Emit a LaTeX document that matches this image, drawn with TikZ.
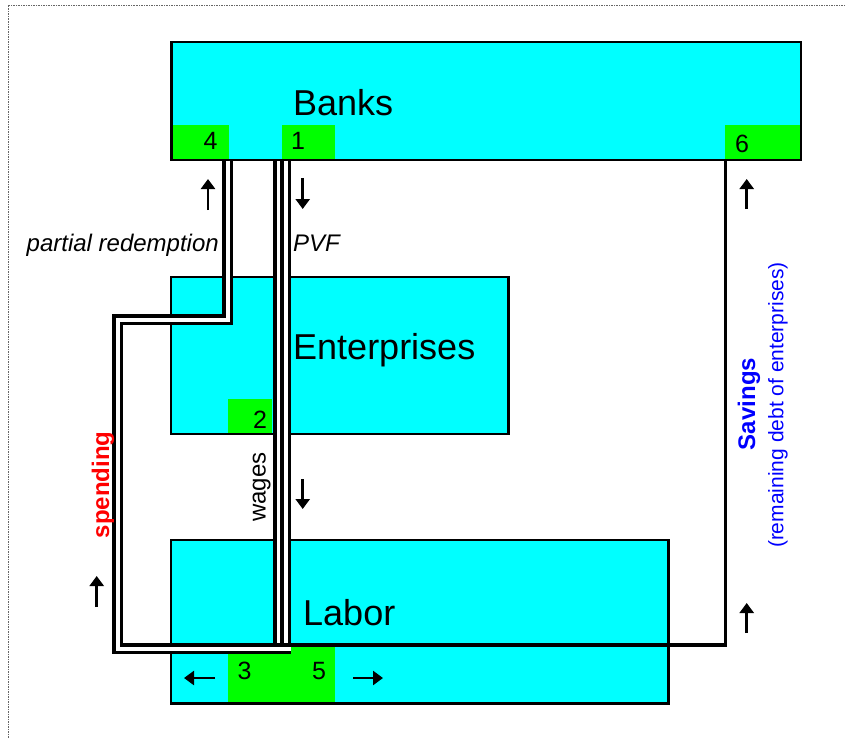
\documentclass[tikz,border=0pt]{standalone}
\usepackage{fontspec}
\setmainfont{Liberation Sans}
\usetikzlibrary{arrows.meta}
\definecolor{boxcyan}{RGB}{0,255,255}
\definecolor{cellgreen}{RGB}{0,255,0}
\definecolor{savblue}{RGB}{0,0,255}
\definecolor{spendred}{RGB}{255,0,0}

\begin{document}
\begin{tikzpicture}[x=1pt,y=-1pt,
  sector/.style={fill=boxcyan,inner sep=0pt,anchor=north west},
  cell/.style={fill=cellgreen,inner sep=0pt,anchor=north west},
  frame/.style={line width=2.2pt},
  title/.style={font=\fontsize{36}{40}\selectfont,anchor=base west,inner sep=0pt},
  num/.style={font=\fontsize{25}{28}\selectfont,anchor=base,inner sep=0pt},
  flow/.style={font=\fontsize{24}{28}\selectfont\itshape,inner sep=0pt},
  pipe/.style={line width=3.3pt,double=white,double distance=4pt},
  wide pipe/.style={line width=3.6pt,double=white,double distance=11pt},
  savings/.style={line width=3.3pt},
  flowarrow/.style={line width=2.8pt,-{Triangle[width=14pt,length=10pt]}}]
\useasboundingbox (0,0) rectangle (845,738);
\draw[gray!80!black,dash pattern=on 1.5pt off 1pt,line width=1pt] (845,5.5) -- (8,5.5) -- (8,738);

% sectors
\node[sector,minimum width=629pt,minimum height=117.5pt] (banks) at (171.5,42) {};
\node[sector,minimum width=337pt,minimum height=156.5pt] (enterprises) at (171,277) {};
\node[sector,minimum width=497pt,minimum height=163pt] (labor) at (171,540) {};

% accounts
\node[cell,minimum width=56.8pt,minimum height=34.5pt] (c4) at (171.5,125) {};
\node[cell,minimum width=53.3pt,minimum height=34.5pt] (c1) at (281.7,125) {};
\node[cell,minimum width=75.5pt,minimum height=34.5pt] (c6) at (725,125) {};
\node[cell,minimum width=44pt,minimum height=34.5pt] (c2) at (228,399) {};
\node[cell,minimum width=107pt,minimum height=58pt] (c35) at (228,645) {};

\foreach \b in {banks,enterprises,labor}
  \draw[frame] (\b.south west) rectangle (\b.north east);

\node[title] (tbanks) at (293,116) {Banks};
\node[title] (tent) at (293,359) {Enterprises};
\node[title] (tlab) at (303,625) {Labor};

\node[num] (n4) at (210.5,150) {4};
\node[num] (n1) at (298,150) {1};
\node[num] (n6) at (742,153) {6};
\node[num] (n2) at (260,428) {2};
\node[num] (n3) at (244.5,679) {3};
\node[num] (n5) at (319,679) {5};

% flows
\coordinate (sv0) at (725.5,160.6);
\coordinate (sv1) at (282,645);
\draw[savings] (sv0) |- (sv1);

\coordinate (w0) at (282,160.6);
\coordinate (w1) at (282,643.3);
\draw[wide pipe] (w0) -- (w1);
\draw[line width=3.3pt] (w0) -- (w1);

\coordinate (sp0) at (227.5,160.6);
\coordinate (sp1) at (291,648.5);
\draw[pipe] (sp0) -- (227.5,319.5) -- (117.5,319.5) |- (sp1);

% labels
\node[flow,anchor=base east] (lpart) at (219,251) {partial redemption};
\node[flow,anchor=base west] (lpvf) at (293,251) {PVF};
\node[flow,font=\fontsize{24}{28}\selectfont,rotate=90,anchor=base] (lwages) at (265.5,487) {wages};
\node[flow,font=\fontsize{24}{28}\selectfont\bfseries,text=spendred,rotate=90,anchor=base] (lspend) at (109,485) {spending};
\node[flow,font=\fontsize{24}{28}\selectfont\bfseries,text=savblue,rotate=90] (lsav) at (749,404) {Savings};
\node[flow,font=\fontsize{21}{24}\selectfont,text=savblue,rotate=90] (ldebt) at (778,405) {(remaining debt of enterprises)};

% directions
\draw[flowarrow] (208,210) -- (208,179);
\draw[flowarrow] (302.7,178) -- (302.7,209);
\draw[flowarrow] (302.7,479) -- (302.7,509);
\draw[flowarrow] (96.7,607) -- (96.7,576);
\draw[flowarrow] (746.7,209) -- (746.7,179);
\draw[flowarrow] (746.7,633) -- (746.7,603);
\draw[flowarrow] (215,678) -- (184,678);
\draw[flowarrow] (353,678) -- (383,678);
\end{tikzpicture}
\end{document}
